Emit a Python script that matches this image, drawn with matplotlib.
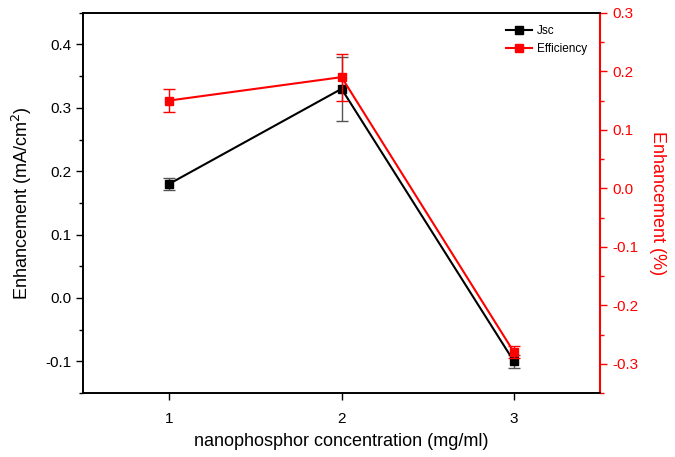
import matplotlib.pyplot as plt
from matplotlib.lines import Line2D
from matplotlib.ticker import MultipleLocator

plt.rcParams['font.family'] = ['Liberation Sans', 'DejaVu Sans']
plt.rcParams['axes.unicode_minus'] = False

# data
conc = [1, 2, 3]
jsc = [0.18, 0.33, -0.10]
jsc_err = [0.01, 0.05, 0.01]
eff = [0.15, 0.19, -0.28]
eff_err = [0.02, 0.04, 0.01]

fig = plt.figure(figsize=(6.75, 4.57), dpi=100)
ax = fig.add_axes([0.123, 0.140, 0.766, 0.832])
ax2 = ax.twinx()

# left axis: Jsc
ax.errorbar(conc, jsc, yerr=jsc_err, color='black', marker='s', ms=6,
            lw=1.5, elinewidth=1, ecolor='#555555', capsize=4, capthick=1)
ax.set_xlim(0.5, 3.5)
ax.set_ylim(-0.15, 0.45)
ax.set_xticks(conc)
ax.yaxis.set_major_locator(MultipleLocator(0.1))
ax.yaxis.set_minor_locator(MultipleLocator(0.05))
ax.set_xlabel('nanophosphor concentration (mg/ml)', fontsize=13, labelpad=5)
ax.set_ylabel('Enhancement (mA/cm$^2$)', fontsize=13, labelpad=8)
ax.tick_params(direction='out', length=5, width=1, labelsize=11)
ax.tick_params(axis='x', pad=9)
ax.tick_params(which='minor', direction='out', length=3, width=1)

# right axis: efficiency
ax2.errorbar(conc, eff, yerr=eff_err, color='red', marker='s', ms=6,
             lw=1.5, elinewidth=1, ecolor='red', capsize=4, capthick=1)
ax2.set_ylim(-0.35, 0.3)
ax2.yaxis.set_major_locator(MultipleLocator(0.1))
ax2.yaxis.set_minor_locator(MultipleLocator(0.05))
ax2.set_ylabel('Enhancement (%)', color='red', fontsize=13, rotation=270, labelpad=20)
ax2.tick_params(axis='y', colors='red', direction='out', length=5, width=1, labelsize=11)
ax2.tick_params(axis='y', which='minor', colors='red', direction='out', length=3, width=1)
ax2.spines['right'].set_color('red')

for a in (ax, ax2):
    for s in a.spines.values():
        s.set_linewidth(1.2)
ax2.spines['right'].set_linewidth(1.5)

handles = [Line2D([], [], color='black', marker='s', ms=6, lw=1.5),
           Line2D([], [], color='red', marker='s', ms=6, lw=1.5)]
ax.legend(handles, ['Jsc', 'Efficiency'], loc='upper right',
          bbox_to_anchor=(0.99, 0.99), frameon=False, fontsize=8.5,
          handlelength=2.2, handletextpad=0.4, borderaxespad=0.3)

fig.savefig('out.png', dpi=100)
